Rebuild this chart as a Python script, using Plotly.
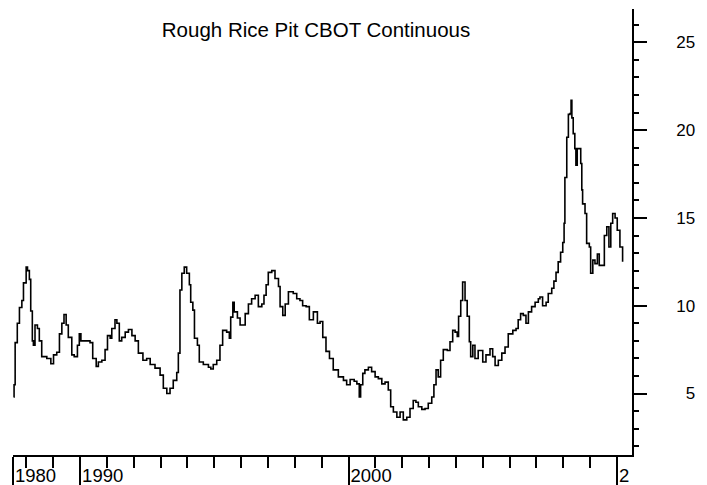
import plotly.graph_objects as go

title_text = "Rough Rice Pit CBOT Continuous"

years = [
    1987.52, 1987.54, 1987.58, 1987.66, 1987.74, 1987.83, 1987.89, 1987.99, 1988.04, 1988.11,
    1988.16, 1988.22, 1988.26, 1988.32, 1988.41, 1988.48, 1988.57, 1988.76, 1988.91, 1989.01,
    1989.13, 1989.23, 1989.32, 1989.40, 1989.48, 1989.56, 1989.69, 1989.78, 1989.90, 1989.97,
    1990.03, 1990.19, 1990.37, 1990.47, 1990.60, 1990.68, 1990.81, 1990.93, 1991.02, 1991.12,
    1991.18, 1991.30, 1991.37, 1991.46, 1991.55, 1991.68, 1991.80, 1991.93, 1992.05, 1992.17,
    1992.34, 1992.48, 1992.61, 1992.79, 1992.98, 1993.10, 1993.23, 1993.35, 1993.47, 1993.60,
    1993.66, 1993.72, 1993.79, 1993.88, 1993.97, 1994.07, 1994.12, 1994.20, 1994.26, 1994.37,
    1994.44, 1994.59, 1994.78, 1994.87, 1994.96, 1995.09, 1995.21, 1995.31, 1995.46, 1995.56,
    1995.61, 1995.69, 1995.74, 1995.86, 1995.96, 1996.02, 1996.15, 1996.27, 1996.39, 1996.52,
    1996.64, 1996.77, 1996.85, 1996.93, 1997.01, 1997.14, 1997.26, 1997.39, 1997.45, 1997.55,
    1997.64, 1997.76, 1997.94, 1998.07, 1998.19, 1998.29, 1998.42, 1998.54, 1998.69, 1998.84,
    1998.94, 1999.04, 1999.16, 1999.29, 1999.43, 1999.62, 1999.81, 1999.93, 2000.06, 2000.21,
    2000.31, 2000.40, 2000.45, 2000.53, 2000.61, 2000.74, 2000.86, 2000.99, 2001.11, 2001.24,
    2001.36, 2001.48, 2001.57, 2001.67, 2001.80, 2001.92, 2002.04, 2002.17, 2002.29, 2002.41,
    2002.51, 2002.60, 2002.73, 2002.85, 2002.97, 2003.10, 2003.18, 2003.26, 2003.34, 2003.43,
    2003.53, 2003.68, 2003.78, 2003.88, 2003.97, 2004.05, 2004.10, 2004.18, 2004.25, 2004.34,
    2004.42, 2004.50, 2004.55, 2004.63, 2004.71, 2004.83, 2005.00, 2005.12, 2005.27, 2005.37,
    2005.46, 2005.58, 2005.71, 2005.83, 2005.95, 2006.12, 2006.24, 2006.32, 2006.41, 2006.51,
    2006.61, 2006.70, 2006.82, 2006.95, 2007.07, 2007.13, 2007.23, 2007.36, 2007.44, 2007.57,
    2007.65, 2007.73, 2007.81, 2007.90, 2007.98, 2008.03, 2008.06, 2008.13, 2008.19, 2008.25,
    2008.29, 2008.32, 2008.37, 2008.43, 2008.47, 2008.52, 2008.60, 2008.65, 2008.69, 2008.72,
    2008.81, 2008.87, 2008.97, 2009.02, 2009.10, 2009.18, 2009.27, 2009.34, 2009.49, 2009.53,
    2009.62, 2009.70, 2009.77, 2009.84, 2009.93, 2010.01, 2010.11, 2010.21,
]

prices = [
    4.8, 5.5, 7.9, 9.0, 9.9, 10.3, 11.3, 12.2, 12.0, 11.5,
    9.7, 8.0, 7.75, 8.9, 8.7, 8.0, 7.1, 7.0, 6.7, 7.2,
    7.35, 8.4, 9.0, 9.5, 8.9, 8.2, 7.2, 7.1, 7.75, 8.4,
    8.0, 8.0, 7.9, 7.0, 6.55, 6.8, 6.9, 7.5, 8.3, 8.15,
    8.7, 9.2, 9.0, 8.0, 8.2, 8.5, 8.65, 8.3, 8.0, 7.3,
    6.9, 7.0, 6.65, 6.45, 6.05, 5.3, 5.0, 5.3, 5.75, 6.2,
    7.3, 10.9, 11.85, 12.2, 11.85, 11.2, 10.2, 9.75, 8.15, 7.75,
    6.8, 6.65, 6.5, 6.4, 6.65, 6.9, 7.75, 8.6, 8.5, 8.15,
    9.35, 10.2, 9.65, 9.3, 8.9, 8.9, 9.55, 10.1, 10.4, 10.6,
    9.95, 10.1, 10.6, 11.2, 11.9, 12.0, 11.55, 11.1, 9.95, 9.45,
    10.1, 10.8, 10.7, 10.4, 10.3, 10.0, 9.95, 9.2, 9.65, 9.0,
    9.1, 8.2, 7.4, 7.0, 6.35, 5.95, 5.75, 5.5, 5.8, 5.7,
    5.55, 4.8, 5.5, 6.15, 6.35, 6.5, 6.25, 5.95, 5.85, 5.55,
    5.65, 5.2, 4.25, 3.95, 3.65, 3.95, 3.5, 3.65, 4.15, 4.6,
    4.5, 4.25, 4.1, 4.15, 4.45, 4.8, 5.5, 6.35, 5.95, 6.9,
    7.5, 7.45, 7.95, 8.6, 8.5, 8.25, 9.4, 10.3, 11.35, 10.3,
    9.4, 7.95, 7.1, 7.75, 7.0, 7.45, 6.8, 7.2, 7.55, 7.1,
    6.6, 6.9, 7.3, 7.65, 8.4, 8.6, 8.7, 9.2, 9.55, 9.45,
    9.0, 9.65, 9.95, 10.2, 10.4, 10.5, 10.0, 10.2, 10.7, 11.0,
    11.4, 11.9, 12.5, 13.05, 13.6, 14.7, 17.3, 19.6, 20.9, 20.95,
    21.7, 20.7, 19.8, 18.95, 18.0, 18.95, 18.95, 18.1, 16.6, 15.8,
    15.25, 13.55, 13.35, 11.85, 12.6, 12.4, 12.95, 12.3, 12.3, 14.0,
    14.5, 13.35, 14.7, 15.25, 15.0, 14.3, 13.35, 12.5,
]

x_range = [1987.5, 2010.56]
y_range = [1.5, 26.9]
x_tick_vals = [1987.5, 1990, 2000, 2010]
x_tick_text = ["1980", "1990", "2000", "2"]
y_tick_vals = [5, 10, 15, 20, 25]
y_tick_text = ["\u20075", "10", "15", "20", "25"]

FONT = "Liberation Sans, Arial, sans-serif"

fig = go.Figure()
fig.add_trace(go.Scatter(
    x=years, y=prices, mode="lines",
    line=dict(color="black", width=1.6, shape="hv"),
    showlegend=False, hoverinfo="skip",
))
# empty trace so the label axis exists
fig.add_trace(go.Scatter(x=[], y=[], xaxis="x2", showlegend=False, hoverinfo="skip"))

fig.update_layout(
    width=707, height=485,
    margin=dict(l=5, r=83, t=1, b=38),
    paper_bgcolor="white", plot_bgcolor="white",
    font=dict(family=FONT, color="black", size=17),
    title=dict(
        text=title_text,
        x=308 / 707, xref="container", xanchor="center",
        y=1 - 22 / 485, yref="container", yanchor="middle",
        font=dict(family=FONT, size=20.5, color="black"),
    ),
    xaxis=dict(
        range=x_range, showgrid=False, zeroline=False,
        showline=True, linecolor="black", linewidth=1.6,
        tickmode="array", tickvals=x_tick_vals,
        ticks="outside", ticklen=34, tickwidth=1.6, tickcolor="black",
        showticklabels=False,
        minor=dict(dtick=1, tick0=1990, ticks="outside", ticklen=11,
                   tickwidth=1.6, tickcolor="black", showgrid=False),
    ),
    xaxis2=dict(
        overlaying="x", anchor="y", side="bottom",
        range=x_range, showgrid=False, zeroline=False, showline=False,
        tickmode="array", tickvals=x_tick_vals, ticktext=x_tick_text,
        ticks="", ticklabelposition="outside right",
        ticklabelstandoff=7, ticklabelshift=2,
        tickfont=dict(family=FONT, size=18.5, color="black"),
    ),
    yaxis=dict(
        range=y_range, side="right", showgrid=False, zeroline=False,
        showline=True, linecolor="black", linewidth=1.6,
        tickmode="array", tickvals=y_tick_vals, ticktext=y_tick_text,
        ticks="outside", ticklen=13, tickwidth=1.6, tickcolor="black",
        ticklabelstandoff=26,
        tickfont=dict(family=FONT, size=17, color="black"),
        minor=dict(dtick=1, tick0=0, ticks="outside", ticklen=5,
                   tickwidth=1.6, tickcolor="black", showgrid=False),
    ),
)

fig.write_html("out.html")
